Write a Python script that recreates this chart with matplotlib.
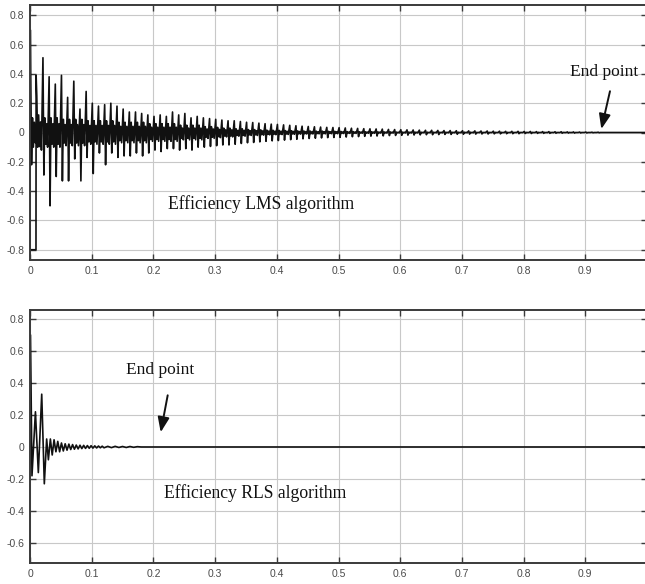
import numpy as np
import matplotlib
matplotlib.use("Agg")
import matplotlib.pyplot as plt

plt.rcParams['axes.unicode_minus'] = False

# ---------------- data ----------------
# LMS error: per 0.01 s bin -> upper spike, lower spike, dense band half-width
lms_bin_start = [round(0.01 * i, 2) for i in range(93)]
lms_hi = [0.70, 0.25, 0.51, 0.38, 0.33, 0.39, 0.24, 0.35, 0.16, 0.28,
          0.20, 0.18, 0.19, 0.20, 0.18, 0.16, 0.14, 0.14, 0.13, 0.12,
          0.11, 0.12, 0.11, 0.14, 0.12, 0.13, 0.10, 0.11, 0.10, 0.095,
          0.09, 0.085, 0.08, 0.08, 0.075, 0.07, 0.068, 0.064, 0.06, 0.057,
          0.055, 0.052, 0.049, 0.046, 0.043, 0.041, 0.039, 0.037, 0.035, 0.034,
          0.033, 0.031, 0.029, 0.028, 0.026, 0.025, 0.024, 0.023, 0.021, 0.020,
          0.019, 0.018, 0.017, 0.016, 0.015, 0.015, 0.014, 0.013, 0.013, 0.012,
          0.012, 0.011, 0.011, 0.010, 0.010, 0.009, 0.009, 0.008, 0.008, 0.008,
          0.007, 0.007, 0.006, 0.006, 0.006, 0.005, 0.005, 0.004, 0.004, 0.003,
          0.003, 0.002, 0.002]
lms_lo = [-0.22, -0.10, -0.29, -0.50, -0.30, -0.33, -0.33, -0.18, -0.33, -0.17,
          -0.28, -0.14, -0.22, -0.14, -0.17, -0.16, -0.16, -0.14, -0.16, -0.14,
          -0.12, -0.13, -0.11, -0.11, -0.12, -0.11, -0.12, -0.10, -0.10, -0.095,
          -0.09, -0.085, -0.085, -0.08, -0.075, -0.07, -0.068, -0.064, -0.06, -0.057,
          -0.055, -0.052, -0.049, -0.046, -0.043, -0.041, -0.039, -0.037, -0.035, -0.034,
          -0.033, -0.031, -0.029, -0.028, -0.026, -0.025, -0.024, -0.023, -0.021, -0.020,
          -0.019, -0.018, -0.017, -0.016, -0.015, -0.015, -0.014, -0.013, -0.013, -0.012,
          -0.012, -0.011, -0.011, -0.010, -0.010, -0.009, -0.009, -0.008, -0.008, -0.008,
          -0.007, -0.007, -0.006, -0.006, -0.006, -0.005, -0.005, -0.004, -0.004, -0.003,
          -0.003, -0.002, -0.002]
lms_band = [0.10, 0.12, 0.10, 0.10, 0.10, 0.09, 0.09, 0.09, 0.09, 0.08,
            0.08, 0.08, 0.08, 0.08, 0.07, 0.07, 0.07, 0.07, 0.07, 0.06,
            0.06, 0.06, 0.06, 0.06, 0.05, 0.05, 0.05, 0.05, 0.04, 0.04,
            0.035, 0.03, 0.03, 0.025, 0.025, 0.02, 0.02, 0.018, 0.016, 0.015,
            0.014, 0.013, 0.012, 0.011, 0.010, 0.010, 0.009, 0.009, 0.008, 0.008,
            0.007, 0.006, 0.006, 0.005, 0.005, 0.005, 0.004, 0.004, 0.004, 0.003,
            0.003, 0.003, 0.003, 0.002, 0.002, 0.002, 0.002, 0.002, 0.002, 0.002,
            0.002, 0.002, 0.001, 0.001, 0.001, 0.001, 0.001, 0.001, 0.001, 0.001,
            0.001, 0.001, 0.001, 0.001, 0.001, 0.001, 0.001, 0.001, 0.0, 0.0,
            0.0, 0.0, 0.0]
# initial transient of the LMS trace (down to -0.8 and back up)
lms_start_t = [0.009, 0.0, 0.0, 0.0097, 0.0099]
lms_start_y = [0.0, 0.0, -0.80, -0.80, 0.39]
lms_end_t = [0.93, 1.0]
lms_end_y = [0.0, 0.0]

# RLS error: turning points
rls_t = [0.0, 0.0008, 0.0032, 0.0088, 0.0135, 0.0190, 0.0232, 0.0270, 0.0298,
         0.0330, 0.0360, 0.0390, 0.0420, 0.0450, 0.0480, 0.0510, 0.0540, 0.0570,
         0.0600, 0.0630, 0.0660, 0.0690, 0.0720, 0.0750, 0.0780, 0.0810, 0.0840,
         0.0870, 0.0900, 0.0930, 0.0960, 0.0990, 0.1020, 0.1050, 0.1080, 0.1110,
         0.1140, 0.1170, 0.1200, 0.1260, 0.1320, 0.1380, 0.1440, 0.1500, 0.1560,
         0.1620, 0.1680, 0.1740, 0.1800, 1.0]
rls_y = [0.0, 0.70, -0.18, 0.22, -0.16, 0.33, -0.23, 0.05, -0.08,
         0.05, -0.05, 0.045, -0.03, 0.035, -0.03, 0.025, -0.025, 0.02,
         -0.02, 0.018, -0.016, 0.015, -0.014, 0.012, -0.012, 0.011, -0.010,
         0.010, -0.009, 0.009, -0.008, 0.008, -0.007, 0.007, -0.006, 0.006,
         -0.005, 0.005, -0.005, 0.004, -0.004, 0.004, -0.003, 0.003, -0.003,
         0.003, -0.002, 0.002, 0.0, 0.0]

x_ticks = [0, 0.1, 0.2, 0.3, 0.4, 0.5, 0.6, 0.7, 0.8, 0.9, 1.0]
x_ticklabels = ['0', '0.1', '0.2', '0.3', '0.4', '0.5', '0.6', '0.7', '0.8', '0.9', '1']
top_yticks = [-0.8, -0.6, -0.4, -0.2, 0, 0.2, 0.4, 0.6, 0.8]
top_yticklabels = ['-0.8', '-0.6', '-0.4', '-0.2', '0', '0.2', '0.4', '0.6', '0.8']
bot_yticks = [-0.6, -0.4, -0.2, 0, 0.2, 0.4, 0.6, 0.8]
bot_yticklabels = ['-0.6', '-0.4', '-0.2', '0', '0.2', '0.4', '0.6', '0.8']

# ---------------- build LMS trace from per-bin values ----------------
offs = [0.0010, 0.0025, 0.0040, 0.0055, 0.0070, 0.0085]
lms_t = list(lms_start_t)
lms_y = list(lms_start_y)
for i, t0 in enumerate(lms_bin_start):
    if i == 0:
        continue
    hi, lo, b = lms_hi[i], lms_lo[i], lms_band[i]
    vals = [hi, lo, b, -0.8 * b, 0.6 * b, -b]
    for o, v in zip(offs, vals):
        lms_t.append(t0 + o)
        lms_y.append(v)
lms_t += lms_end_t
lms_y += lms_end_y

# bin 0 trace drawn first (before the transient)
b0_t = [0.0, 0.0005, 0.0025, 0.0040, 0.0055, 0.0070, 0.0085]
b0_y = [0.0, lms_hi[0], lms_lo[0], lms_band[0], -lms_band[0], lms_band[0] * 0.7, -lms_band[0] * 0.7]
lms_t = b0_t + lms_t
lms_y = b0_y + lms_y

# ---------------- figure ----------------
W, H = 645, 584
fig = plt.figure(figsize=(W / 100, H / 100), dpi=100)

def px_axes(left, top, right, bottom):
    return fig.add_axes([left / W, 1 - bottom / H, (right - left) / W, (bottom - top) / H])

ax1 = px_axes(30, 5, 647, 260)
ax2 = px_axes(30, 310, 647, 563)

tick_font = dict(family=['Liberation Sans', 'DejaVu Sans'], size=7.5)
spine_col = '#3a3a3a'

def style(ax, yticks, yticklabels, ylim):
    ax.set_xlim(0, 1)
    ax.set_ylim(*ylim)
    ax.set_xticks(x_ticks)
    ax.set_xticklabels(x_ticklabels, fontdict=tick_font, color='#4a4a4a')
    ax.set_yticks(yticks)
    ax.set_yticklabels(yticklabels, fontdict=tick_font, color='#4a4a4a')
    ax.tick_params(direction='in', length=4, width=1.0, color=spine_col,
                   top=True, right=True, pad=4)
    ax.grid(True, color='#c8c8c8', linewidth=0.8)
    ax.set_axisbelow(True)
    for s in ax.spines.values():
        s.set_color(spine_col)
        s.set_linewidth(1.4)

style(ax1, top_yticks, top_yticklabels, (-0.87, 0.87))
style(ax2, bot_yticks, bot_yticklabels, (-0.725, 0.856))

ax1.plot(lms_t, lms_y, color='#111111', linewidth=1.2)
ax2.plot(rls_t, rls_y, color='#111111', linewidth=1.2)

serif = ['Liberation Serif', 'DejaVu Serif']
ax1.text(0.374, -0.49, 'Efficiency LMS algorithm', family=serif, size=12.7,
         ha='center', va='center', color='#111111')
ax2.text(0.365, -0.29, 'Efficiency RLS algorithm', family=serif, size=12.7,
         ha='center', va='center', color='#111111')

arrow = dict(arrowstyle='-|>,head_length=0.9,head_width=0.35', color='#111111', lw=1.4)
ax1.text(0.930, 0.41, 'End point', family=serif, size=12.5, ha='center', va='center',
         color='#111111')
ax1.annotate('', xy=(0.925, 0.005), xytext=(0.941, 0.30), arrowprops=arrow)
ax2.text(0.211, 0.48, 'End point', family=serif, size=12.5, ha='center', va='center',
         color='#111111')
ax2.annotate('', xy=(0.211, 0.075), xytext=(0.224, 0.34), arrowprops=arrow)

fig.savefig('out.png', dpi=100)
